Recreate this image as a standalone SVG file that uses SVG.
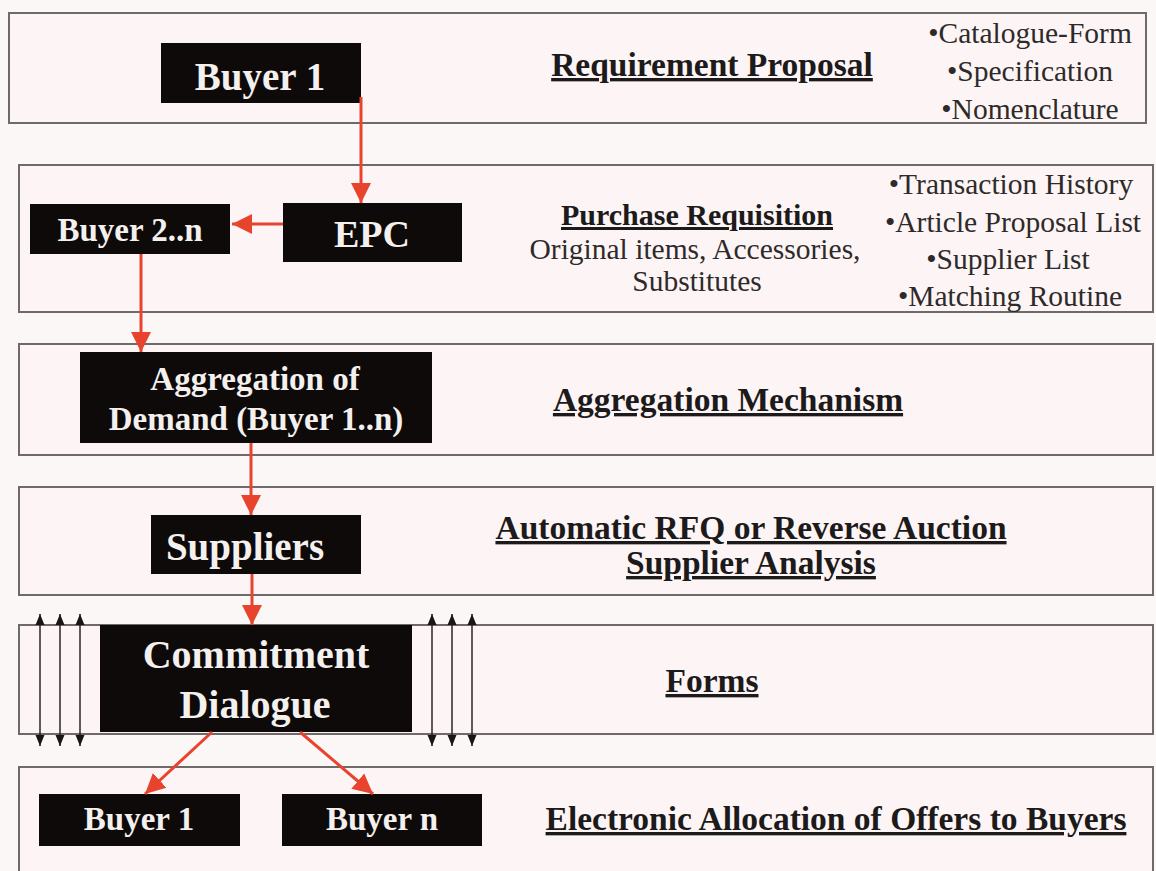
<svg xmlns="http://www.w3.org/2000/svg" width="1156" height="871" viewBox="0 0 1156 871">
<style>
.panel{fill:#fdf5f5;stroke:#6e6a6a;stroke-width:2}
.box{fill:#0e0a0a}
.nt{font-family:"Liberation Serif","Times New Roman",serif;font-weight:bold;fill:#f4f0ee;text-anchor:middle}
.hd{font-family:"Liberation Serif","Times New Roman",serif;font-weight:bold;font-size:33.5px;fill:#1c1a1a;text-anchor:middle;text-decoration:underline}
.rg{font-family:"Liberation Serif","Times New Roman",serif;font-size:29.5px;fill:#2e2a2a;text-anchor:middle}
.red{stroke:#e8432d;stroke-width:3;fill:none;marker-end:url(#ra)}
.dbl{stroke:#2a2626;stroke-width:1.5;fill:none;marker-start:url(#ka);marker-end:url(#ka)}
</style>
<defs>
<marker id="ra" markerUnits="userSpaceOnUse" markerWidth="22" markerHeight="22" viewBox="0 0 22 22" refX="20" refY="11" orient="auto">
<path d="M0,1 L20,11 L0,21 Z" fill="#e8432d"/>
</marker>
<marker id="ka" markerUnits="userSpaceOnUse" markerWidth="12" markerHeight="10" viewBox="0 0 12 10" refX="11" refY="5" orient="auto-start-reverse">
<path d="M0,0.5 L11,5 L0,9.5 Z" fill="#1a1616"/>
</marker>
</defs>
<rect width="1156" height="871" fill="#fcf7f7"/>

<g id="panels">
<rect class="panel" x="9" y="13" width="1137" height="110"/>
<rect class="panel" x="19" y="165" width="1134" height="147"/>
<rect class="panel" x="19" y="344" width="1134" height="111"/>
<rect class="panel" x="19" y="487" width="1134" height="108"/>
<rect class="panel" x="19" y="625" width="1134" height="109"/>
<rect class="panel" x="19" y="767" width="1134" height="110"/>
</g>

<g id="labels">
<text class="hd" x="712" y="76">Requirement Proposal</text>
<text class="rg" x="1030" y="43">•Catalogue-Form</text>
<text class="rg" x="1030" y="81">•Specification</text>
<text class="rg" x="1030" y="119">•Nomenclature</text>

<text class="hd" x="697" y="225" style="font-size:30px">Purchase Requisition</text>
<text class="rg" x="695" y="259">Original items, Accessories,</text>
<text class="rg" x="697" y="291">Substitutes</text>
<text class="rg" x="1011" y="194">•Transaction History</text>
<text class="rg" x="1013" y="232">•Article Proposal List</text>
<text class="rg" x="1008" y="269">•Supplier List</text>
<text class="rg" x="1010" y="306">•Matching Routine</text>

<text class="hd" x="728" y="411">Aggregation Mechanism</text>
<text class="hd" x="751" y="539">Automatic RFQ or Reverse Auction</text>
<text class="hd" x="751" y="574">Supplier Analysis</text>
<text class="hd" x="712" y="692">Forms</text>
<text class="hd" x="836" y="830">Electronic Allocation of Offers to Buyers</text>
</g>

<g id="buyer1">
<rect class="box" x="161" y="43" width="200" height="60"/>
<text class="nt" x="260" y="90" font-size="39">Buyer 1</text>
</g>
<g id="epc">
<rect class="box" x="283" y="203" width="179" height="59"/>
<text class="nt" x="372" y="247" font-size="38">EPC</text>
</g>
<g id="buyer2n">
<rect class="box" x="30" y="204" width="200" height="50"/>
<text class="nt" x="130" y="241" font-size="33">Buyer 2..n</text>
</g>
<g id="aggregation">
<rect class="box" x="80" y="352" width="352" height="91"/>
<text class="nt" x="255" y="390" font-size="33">Aggregation of</text>
<text class="nt" x="256" y="430" font-size="33">Demand (Buyer 1..n)</text>
</g>
<g id="suppliers">
<rect class="box" x="151" y="515" width="210" height="59"/>
<text class="nt" x="245" y="560" font-size="39">Suppliers</text>
</g>
<g id="commitment">
<rect class="box" x="100" y="625" width="312" height="107"/>
<text class="nt" x="256" y="668" font-size="40">Commitment</text>
<text class="nt" x="255" y="718" font-size="40">Dialogue</text>
</g>
<g id="buyer1b">
<rect class="box" x="39" y="794" width="201" height="52"/>
<text class="nt" x="139" y="830" font-size="33">Buyer 1</text>
</g>
<g id="buyern">
<rect class="box" x="282" y="794" width="200" height="52"/>
<text class="nt" x="382" y="830" font-size="33">Buyer n</text>
</g>

<g id="connectors">
<path class="red" d="M361,97 L361,203"/>
<path class="red" d="M283,224 L232,224"/>
<path class="red" d="M141,254 L141,352"/>
<path class="red" d="M251,443 L251,515"/>
<path class="red" d="M252,574 L252,625"/>
<path class="red" d="M212,732 L145,794"/>
<path class="red" d="M300,732 L373,794"/>
<path class="dbl" d="M40,614 L40,746"/>
<path class="dbl" d="M60,614 L60,746"/>
<path class="dbl" d="M80,614 L80,746"/>
<path class="dbl" d="M432,614 L432,746"/>
<path class="dbl" d="M452,614 L452,746"/>
<path class="dbl" d="M472,614 L472,746"/>
</g>
</svg>
